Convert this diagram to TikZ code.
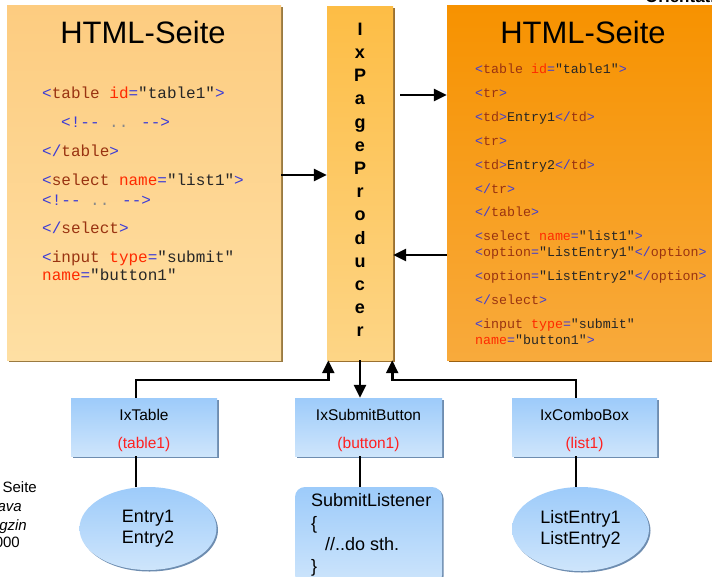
\documentclass[tikz,border=0pt]{standalone}
\usepackage{fontspec}
\setmainfont{Liberation Sans}
\newfontfamily\codefont{Liberation Mono}
\usetikzlibrary{arrows.meta,shapes.geometric,shadows,calc}

% panel colours
\definecolor{paleTop}{HTML}{FDCC80}
\definecolor{paleBot}{HTML}{FEDFA3}
\definecolor{paleEdge}{HTML}{9A7A40}
\definecolor{midTop}{HTML}{FDBD45}
\definecolor{midBot}{HTML}{FDD586}
\definecolor{midEdge}{HTML}{9A7030}
\definecolor{deepTop}{HTML}{F79200}
\definecolor{deepBot}{HTML}{F8AA3C}
\definecolor{deepEdge}{HTML}{9A6010}
\definecolor{blueTop}{HTML}{9DCBFA}
\definecolor{blueBot}{HTML}{CEE5FB}
\definecolor{blueEdge}{HTML}{6E8DB0}
% code colours
\definecolor{codebr}{HTML}{3B3BD6}
\definecolor{codetag}{HTML}{993311}
\definecolor{codeatt}{HTML}{FF2A00}
\definecolor{codeval}{HTML}{262626}
\definecolor{codecmt}{HTML}{8A8A8A}
\definecolor{labred}{HTML}{FF2020}

\newcommand\hB[1]{\textcolor{codebr}{#1}}
\newcommand\hT[1]{\textcolor{codetag}{#1}}
\newcommand\hA[1]{\textcolor{codeatt}{#1}}
\newcommand\hV[1]{\textcolor{codeval}{#1}}
\newcommand\hC[1]{\textcolor{codecmt}{#1}}

\tikzset{
  panel/.style n args={3}{rectangle, inner sep=0pt, top color=#1, bottom color=#2,
    general shadow={fill=#3, shadow xshift=1.5pt, shadow yshift=-1.5pt}},
  bluebox/.style={rectangle, inner sep=0pt, top color=blueTop, bottom color=blueBot,
    minimum height=58pt, general shadow={fill=blueEdge, shadow xshift=1.5pt, shadow yshift=-1.5pt}},
  blueoval/.style={ellipse, inner sep=0pt, top color=blueTop, bottom color=blueBot,
    general shadow={fill=blueEdge, shadow xshift=1.5pt, shadow yshift=-1.5pt},
    align=center, font=\fontsize{18}{21}\selectfont},
  title/.style={font=\fontsize{31}{36}\selectfont, anchor=base, inner sep=0pt},
  bigcode/.style={font=\codefont\fontsize{16}{19}\selectfont, anchor=base west, inner sep=0pt},
  smallcode/.style={font=\codefont\fontsize{13.3}{16}\selectfont, anchor=base west, inner sep=0pt},
  lbl/.style={font=\fontsize{15.5}{18}\selectfont, inner sep=0pt},
  listener/.style={font=\fontsize{18}{21}\selectfont, anchor=base west, inner sep=0pt},
  frag/.style={font=\fontsize{15}{18}\selectfont, anchor=base east, inner sep=0pt},
  conn/.style={line width=2.6pt, black},
  arr/.style={conn, -{Triangle[length=13pt,width=12pt]}},
}

\begin{document}
\begin{tikzpicture}[x=1pt,y=-1pt]
\useasboundingbox (0,0) rectangle (712,576);
\clip (0,0) rectangle (712,576);
\fill[white] (0,0) rectangle (712,576);

% three page panels
\node[panel={paleTop}{paleBot}{paleEdge}, minimum width=274pt, minimum height=355pt] (left) at (144,182.5) {};
\node[panel={midTop}{midBot}{midEdge}, minimum width=66pt, minimum height=354pt] (mid) at (360,183) {};
\node[panel={deepTop}{deepBot}{deepEdge}, minimum width=275pt, minimum height=355pt] (right) at (584.5,182.5) {};

% header fragment at the top edge
\node[font=\bfseries\fontsize{17}{19}\selectfont, anchor=base west, inner sep=0pt] (hdr) at (645,2.2) {Orientation};

% titles
\node[title] (ltitle) at (143,43) {HTML-Seite};
\node[title] (rtitle) at (583,43) {HTML-Seite};

% vertical producer label
\node[font=\bfseries\fontsize{18}{23.2}\selectfont, align=center, inner sep=0pt] (prod) at (360,180)
  {I\\x\\P\\a\\g\\e\\P\\r\\o\\d\\u\\c\\e\\r};

% source page code
\node[bigcode] (l1) at (42,98)  {\hB{<}\hT{table} \hA{id}\hB{=}\hV{"table1"}\hB{>}};
\node[bigcode] (l2) at (61,127) {\hB{<!-{}-} \hC{..} \hB{-{}->}};
\node[bigcode] (l3) at (42,156) {\hB{</}\hT{table}\hB{>}};
\node[bigcode] (l4) at (42,185) {\hB{<}\hT{select} \hA{name}\hB{=}\hV{"list1"}\hB{>}};
\node[bigcode] (l5) at (42,205) {\hB{<!-{}-} \hC{..} \hB{-{}->}};
\node[bigcode] (l6) at (42,233) {\hB{</}\hT{select}\hB{>}};
\node[bigcode] (l7) at (42,262) {\hB{<}\hT{input} \hA{type}\hB{=}\hV{"submit"}};
\node[bigcode] (l8) at (42,280) {\hA{name}\hB{=}\hV{"button1"}};

% generated page code
\node[smallcode] (r1)  at (475,73)  {\hB{<}\hT{table} \hA{id}\hB{=}\hV{"table1"}\hB{>}};
\node[smallcode] (r2)  at (475,97)  {\hB{<}\hT{tr}\hB{>}};
\node[smallcode] (r3)  at (475,121) {\hB{<}\hT{td}\hB{>}\hV{Entry1}\hB{</}\hT{td}\hB{>}};
\node[smallcode] (r4)  at (475,145) {\hB{<}\hT{tr}\hB{>}};
\node[smallcode] (r5)  at (475,169) {\hB{<}\hT{td}\hB{>}\hV{Entry2}\hB{</}\hT{td}\hB{>}};
\node[smallcode] (r6)  at (475,193) {\hB{</}\hT{tr}\hB{>}};
\node[smallcode] (r7)  at (475,216) {\hB{</}\hT{table}\hB{>}};
\node[smallcode] (r8)  at (475,240) {\hB{<}\hT{select} \hA{name}\hB{=}\hV{"list1"}\hB{>}};
\node[smallcode] (r9)  at (475,256) {\hB{<}\hT{option}\hB{=}\hV{"ListEntry1"}\hB{</}\hT{option}\hB{>}};
\node[smallcode] (r10) at (475,280) {\hB{<}\hT{option}\hB{=}\hV{"ListEntry2"}\hB{</}\hT{option}\hB{>}};
\node[smallcode] (r11) at (475,304) {\hB{</}\hT{select}\hB{>}};
\node[smallcode] (r12) at (475,328) {\hB{<}\hT{input} \hA{type}\hB{=}\hV{"submit"}};
\node[smallcode] (r13) at (475,344) {\hA{name}\hB{=}\hV{"button1"}\hB{>}};

% component boxes
\node[bluebox, minimum width=146pt] (tbl) at (144,427) {};
\node[bluebox, minimum width=147pt] (sub) at (368.5,427) {};
\node[bluebox, minimum width=145pt] (cmb) at (584.5,427) {};
\node[lbl] (tblA) at (144,415) {IxTable};
\node[lbl, text=labred] (tblB) at (144,444) {(table1)};
\node[lbl] (subA) at (368.5,415) {IxSubmitButton};
\node[lbl, text=labred] (subB) at (368.5,444) {(button1)};
\node[lbl] (cmbA) at (584.5,415) {IxComboBox};
\node[lbl, text=labred] (cmbB) at (584.5,444) {(list1)};

% data / listener shapes
\node[blueoval, minimum width=137pt, minimum height=83pt] (e1) at (148,528.5) {Entry1\\Entry2};
\node[blueoval, minimum width=137pt, minimum height=84pt] (e3) at (580.5,529) {ListEntry1\\ListEntry2};
\node[rectangle, rounded corners=10pt, inner sep=0pt, top color=blueTop, bottom color=blueBot,
  general shadow={fill=blueEdge, shadow xshift=1.5pt, shadow yshift=-1.5pt},
  minimum width=147pt, minimum height=98pt] (lis) at (368.5,536) {};
\node[listener] (lis1) at (311,506) {SubmitListener};
\node[listener] (lis2) at (311,529) {\{};
\node[listener] (lis3) at (325,550) {//..do sth.};
\node[listener] (lis4) at (311,572) {\}};

% cut-off side note
\node[frag] (f1) at (37,492) {Seite};
\node[frag, font=\itshape\fontsize{15}{18}\selectfont] (f2) at (22,511) {ava};
\node[frag, font=\itshape\fontsize{15}{18}\selectfont] (f3) at (27,530) {gzin};
\node[frag] (f4) at (20,547) {000};

% connectors between components and their contents
\draw[conn] ([xshift=-8pt]tbl.south) -- ([xshift=-8pt]tbl.south |- e1.north);
\draw[conn] (mid.south |- sub.south) -- (mid.south |- lis.north);
\draw[conn] ([xshift=-8.5pt]cmb.south) -- ([xshift=-8.5pt]cmb.south |- e3.north);

% bus to the producer
\coordinate (bus) at (0,380);
\draw[arr] ([xshift=-8pt]tbl.north) -- ([xshift=-8pt]tbl.north |- bus) -| ([xshift=1.5pt]mid.south west);
\draw[arr] (mid.south) -- (mid.south |- sub.north);
\draw[arr] ([xshift=-8.5pt]cmb.north) -- ([xshift=-8.5pt]cmb.north |- bus) -| ([xshift=-1pt]mid.south east);

% page flow arrows
\coordinate (h1) at (0,175);
\coordinate (h2) at (400,95);
\coordinate (h3) at (0,255);
\draw[arr] (left.east |- h1) -- (mid.west |- h1);
\draw[arr] (h2) -- (right.west |- h2);
\draw[arr] (right.west |- h3) -- (mid.east |- h3);
\end{tikzpicture}
\end{document}
